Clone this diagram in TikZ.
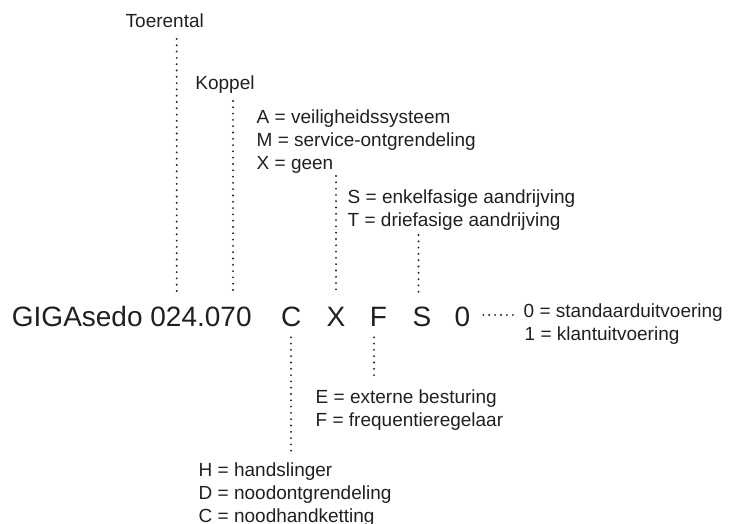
\documentclass[tikz,border=0pt]{standalone}
\usepackage{fontspec}
\setmainfont{Liberation Sans}
\definecolor{ink}{HTML}{231F20}
\begin{document}
\begin{tikzpicture}[x=1pt,y=-1pt,
  lbl/.style={anchor=base west,inner sep=0pt,text=ink,font=\fontsize{19}{22.8}\selectfont},
  big/.style={anchor=base,inner sep=0pt,text=ink,font=\fontsize{28}{30}\selectfont},
  dotline/.style={draw=ink,line width=2.1pt,line cap=round,dash pattern=on 0pt off 6.3pt}]
\useasboundingbox (0,0) rectangle (729,524);
% main code
\node[big,anchor=base west] (gig) at (11.7,326.7) {GIGAsedo 024.070};
\node[big] (cC) at (291.3,326.7) {C};
\node[big] (cX) at (336,326.7) {X};
\node[big] (cF) at (378.3,326.7) {F};
\node[big] (cS) at (422,326.7) {S};
\node[big] (c0) at (462.3,326.7) {0};
% labels
\node[lbl] (toer) at (125.5,27.3) {Toerental};
\node[lbl] (kop) at (195.2,89.3) {Koppel};
\node[lbl] (a1) at (256.5,124) {A = veiligheidssysteem};
\node[lbl] (a2) at (256.5,146.7) {M = service-ontgrendeling};
\node[lbl] (a3) at (256.5,169.3) {X = geen};
\node[lbl] (s1t) at (347.5,203.3) {S = enkelfasige aandrijving};
\node[lbl] (s2t) at (347.5,226) {T = driefasige aandrijving};
\node[lbl] (v1) at (523.5,317.3) {0 = standaarduitvoering};
\node[lbl] (v2) at (524.5,340) {1 = klantuitvoering};
\node[lbl] (e1) at (315.5,403.5) {E = externe besturing};
\node[lbl] (e2) at (315.5,426.2) {F = frequentieregelaar};
\node[lbl] (h1) at (198.5,476.7) {H = handslinger};
\node[lbl] (h2) at (198.5,499.6) {D = noodontgrendeling};
\node[lbl] (h3) at (198.5,522.5) {C = noodhandketting};
% connector end points
\coordinate (t1) at (176.7,39);   \coordinate (t2) at (176.7,292.7);
\coordinate (k1) at (233,101);    \coordinate (k2) at (233,292.7);
\coordinate (x1) at (336,176);    \coordinate (x2) at (336,292.2);
\coordinate (s1) at (418.5,235);  \coordinate (s2) at (418.5,292.8);
\coordinate (c1) at (291,337.3);  \coordinate (c2) at (291,453.3);
\coordinate (f1) at (374,337.3);  \coordinate (f2) at (374,377.3);
\coordinate (o1) at (483.3,315);  \coordinate (o2) at (513,315);
\draw[dotline] (t1) -- (t2);
\draw[dotline] (k1) -- (k2);
\draw[dotline] (x1) -- (x2);
\draw[dotline] (s1) -- (s2);
\draw[dotline] (c1) -- (c2);
\draw[dotline] (f1) -- (f2);
\draw[dotline,dash pattern=on 0pt off 5.9pt] (o1) -- (o2);
\end{tikzpicture}
\end{document}
